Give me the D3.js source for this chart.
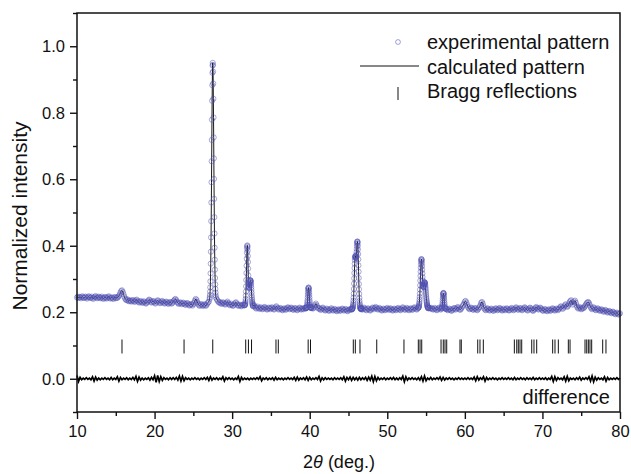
<!DOCTYPE html>
<html>
<head>
<meta charset="utf-8">
<script src="https://cdn.jsdelivr.net/npm/d3@7"></script>
<style>
  body { margin: 0; background: #fff; }
  text { font-family: "Liberation Sans", Arial, sans-serif; fill: #111; }
</style>
</head>
<body>
<div id="plot"></div>
<script>
// powder XRD: observed points (10..80 deg, step 0.1), finer scans over the peaks (step 0.02),
// difference (step 0.2), Bragg positions
const obsStart = 10, obsStep = 0.1;
const obsIntensity = [
  0.244,0.247,0.243,0.246,0.245,0.242,0.246,0.248,0.244,0.243, // 10
  0.245,0.247,0.244,0.241,0.245,0.248,0.246,0.243,0.244,0.247,
  0.243,0.240,0.244,0.246,0.249,0.245,0.242,0.244,0.247,0.245,
  0.242,0.244,0.247,0.243,0.240,0.243,0.246,0.244,0.241,0.243,
  0.246,0.248,0.244,0.241,0.243,0.245,0.242,0.240,0.244,0.246,
  0.242,0.244,0.243,0.246,0.249,0.253,0.259,0.264,0.266,0.261, // 15
  0.254,0.247,0.241,0.238,0.236,0.239,0.235,0.233,0.236,0.234,
  0.232,0.235,0.237,0.234,0.231,0.233,0.236,0.238,0.234,0.231,
  0.229,0.232,0.234,0.231,0.228,0.230,0.233,0.231,0.228,0.226,
  0.229,0.232,0.235,0.238,0.236,0.232,0.229,0.231,0.234,0.232,
  0.229,0.226,0.229,0.233,0.236,0.234,0.230,0.227,0.229,0.232, // 20
  0.234,0.231,0.228,0.226,0.229,0.232,0.230,0.227,0.225,0.228,
  0.231,0.229,0.226,0.228,0.232,0.235,0.238,0.240,0.236,0.231,
  0.228,0.225,0.227,0.230,0.228,0.224,0.226,0.229,0.227,0.224,
  0.222,0.225,0.228,0.226,0.223,0.220,0.222,0.225,0.223,0.220,
  0.224,0.229,0.235,0.240,0.237,0.231,0.226,0.222,0.219,0.222, // 25
  0.225,0.222,0.219,0.221,0.224,0.222,0.219,0.222,0.226,0.230,
  0.232,0.250,0.300,0.450,0.740,0.950,0.800,0.520,0.340,0.270,
  0.240,0.236,0.232,0.229,0.231,0.228,0.225,0.227,0.230,0.228,
  0.225,0.223,0.226,0.229,0.232,0.228,0.224,0.221,0.223,0.226,
  0.222,0.219,0.221,0.224,0.228,0.230,0.226,0.222,0.219,0.221, // 30
  0.223,0.220,0.218,0.221,0.223,0.221,0.252,0.280,0.330,0.380,
  0.402,0.375,0.320,0.295,0.298,0.290,0.262,0.238,0.222,0.218,
  0.214,0.211,0.214,0.217,0.213,0.210,0.212,0.215,0.212,0.209,
  0.211,0.214,0.216,0.213,0.210,0.208,0.211,0.214,0.212,0.209,
  0.212,0.215,0.213,0.210,0.208,0.211,0.215,0.218,0.214,0.211, // 35
  0.208,0.210,0.213,0.211,0.208,0.206,0.209,0.212,0.210,0.207,
  0.210,0.213,0.215,0.212,0.209,0.211,0.214,0.212,0.209,0.207,
  0.210,0.213,0.211,0.208,0.206,0.209,0.212,0.214,0.211,0.208,
  0.210,0.212,0.209,0.212,0.213,0.220,0.230,0.248,0.266,0.274,
  0.262,0.240,0.222,0.213,0.211,0.213,0.217,0.222,0.226,0.221, // 40
  0.215,0.211,0.213,0.210,0.207,0.209,0.212,0.214,0.210,0.207,
  0.205,0.208,0.211,0.209,0.206,0.204,0.207,0.210,0.212,0.208,
  0.205,0.207,0.210,0.208,0.205,0.203,0.206,0.209,0.207,0.204,
  0.206,0.209,0.211,0.208,0.205,0.207,0.210,0.208,0.205,0.203,
  0.206,0.209,0.208,0.210,0.225,0.250,0.300,0.350,0.372,0.355, // 45
  0.360,0.390,0.412,0.380,0.310,0.250,0.222,0.212,0.208,0.211,
  0.214,0.211,0.208,0.206,0.209,0.212,0.210,0.207,0.205,0.208,
  0.211,0.214,0.212,0.209,0.213,0.216,0.213,0.210,0.208,0.211,
  0.213,0.210,0.207,0.205,0.208,0.211,0.209,0.206,0.208,0.211,
  0.213,0.210,0.207,0.209,0.212,0.210,0.207,0.205,0.208,0.211, // 50
  0.209,0.206,0.208,0.211,0.213,0.210,0.208,0.206,0.209,0.212,
  0.215,0.212,0.209,0.207,0.210,0.213,0.211,0.208,0.206,0.209,
  0.212,0.210,0.207,0.209,0.212,0.215,0.213,0.210,0.208,0.211,
  0.215,0.225,0.250,0.300,0.345,0.360,0.330,0.290,0.275,0.285,
  0.290,0.280,0.255,0.235,0.214,0.212,0.211,0.213,0.210,0.208, // 55
  0.210,0.213,0.211,0.208,0.206,0.209,0.212,0.214,0.211,0.208,
  0.212,0.225,0.248,0.258,0.240,0.222,0.209,0.209,0.206,0.208,
  0.211,0.209,0.206,0.204,0.207,0.210,0.213,0.211,0.208,0.210,
  0.213,0.216,0.212,0.209,0.207,0.210,0.214,0.218,0.222,0.226,
  0.232,0.234,0.229,0.222,0.216,0.212,0.209,0.211,0.214,0.212, // 60
  0.209,0.207,0.210,0.213,0.211,0.208,0.206,0.209,0.213,0.216,
  0.221,0.228,0.231,0.226,0.218,0.212,0.208,0.206,0.209,0.212,
  0.210,0.207,0.205,0.208,0.211,0.209,0.206,0.204,0.207,0.210,
  0.212,0.209,0.206,0.208,0.211,0.213,0.210,0.207,0.205,0.208,
  0.211,0.208,0.206,0.209,0.212,0.210,0.207,0.205,0.207,0.210, // 65
  0.213,0.211,0.208,0.206,0.209,0.212,0.215,0.212,0.209,0.207,
  0.210,0.213,0.211,0.208,0.206,0.209,0.212,0.215,0.213,0.210,
  0.207,0.205,0.208,0.211,0.214,0.212,0.209,0.206,0.204,0.207,
  0.210,0.213,0.216,0.213,0.210,0.208,0.211,0.214,0.212,0.209,
  0.206,0.204,0.207,0.210,0.208,0.205,0.203,0.206,0.209,0.207, // 70
  0.204,0.206,0.209,0.212,0.210,0.207,0.205,0.208,0.211,0.209,
  0.206,0.209,0.212,0.216,0.218,0.214,0.210,0.213,0.217,0.221,
  0.224,0.220,0.216,0.219,0.224,0.230,0.234,0.236,0.230,0.223,
  0.226,0.232,0.235,0.229,0.221,0.215,0.211,0.213,0.216,0.212,
  0.209,0.211,0.214,0.212,0.215,0.219,0.223,0.227,0.229,0.231, // 75
  0.228,0.222,0.216,0.212,0.209,0.212,0.215,0.212,0.208,0.206,
  0.209,0.212,0.210,0.207,0.204,0.206,0.209,0.207,0.204,0.201,
  0.204,0.207,0.205,0.202,0.199,0.201,0.204,0.202,0.199,0.197,
  0.200,0.202,0.199,0.196,0.194,0.197,0.199,0.196,0.193,0.195,
  0.197 // 80
];

// finer scans over the main reflections
const fineStep = 0.02;
const peak27 = [0.240,0.245,0.252,0.262,0.275,0.293,0.317,0.346,0.382,0.425,
  0.474,0.530,0.591,0.654,0.718,0.779,0.836,0.883,0.920,0.942,
  0.950,0.944,0.924,0.888,0.842,0.786,0.726,0.663,0.601,0.541,
  0.486,0.437,0.394,0.358,0.328,0.303,0.284,0.270,0.259,0.251,0.245];
const peak32 = [0.221,0.221,0.222,0.223,0.225,0.228,0.233,0.240,0.250,0.262,
  0.278,0.297,0.318,0.340,0.361,0.379,0.392,0.399,0.401,0.396,
  0.385,0.369,0.351,0.331,0.311,0.295,0.284,0.277,0.274,0.273,
  0.275,0.278,0.282,0.286,0.290,0.293,0.295,0.296,0.296,0.295,
  0.292,0.288,0.282,0.275,0.267,0.259,0.251,0.244,0.238,0.233,
  0.229,0.226,0.223,0.221,0.219,0.218];
const peak40 = [0.212,0.212,0.212,0.213,0.213,0.214,0.215,0.217,0.220,0.224,
  0.230,0.236,0.244,0.252,0.259,0.266,0.271,0.274,0.274,0.271,
  0.266,0.259,0.252,0.244,0.236,0.230,0.224,0.220,0.217,0.215,
  0.216,0.215,0.214,0.213,0.213,0.213];
const peak46 = [0.209,0.208,0.209,0.210,0.210,0.211,0.212,0.214,0.216,0.219,
  0.223,0.228,0.235,0.244,0.256,0.270,0.286,0.302,0.318,0.333,
  0.346,0.357,0.364,0.368,0.369,0.368,0.366,0.364,0.363,0.364,
  0.367,0.373,0.381,0.390,0.399,0.406,0.411,0.413,0.412,0.408,
  0.400,0.389,0.375,0.359,0.341,0.322,0.303,0.285,0.269,0.255,
  0.243,0.234,0.227,0.222,0.218,0.215,0.213,0.212,0.211,0.210,
  0.210,0.209,0.210,0.211,0.212,0.212];
const peak54 = [0.213,0.214,0.215,0.217,0.219,0.222,0.226,0.231,0.238,0.246,
  0.256,0.268,0.281,0.295,0.309,0.322,0.334,0.344,0.352,0.357,
  0.360,0.359,0.355,0.348,0.339,0.328,0.317,0.306,0.296,0.288,
  0.282,0.278,0.276,0.276,0.277,0.279,0.282,0.285,0.287,0.289,
  0.290,0.290,0.289,0.287,0.284,0.280,0.275,0.270,0.264,0.258,
  0.252,0.246,0.241,0.236,0.232,0.228,0.225,0.222,0.220,0.218,
  0.216,0.215,0.214,0.213,0.212,0.212];
const peak57 = [0.211,0.212,0.213,0.215,0.218,0.222,0.228,0.235,0.242,0.249,
  0.254,0.257,0.258,0.257,0.254,0.249,0.243,0.236,0.229,0.223,
  0.218,0.215,0.213,0.212,0.211,0.211];
const peakStarts = [27.10, 31.60, 39.50, 45.40, 54.00, 57.00];
const peakScans = [peak27, peak32, peak40, peak46, peak54, peak57];

const diffStart = 10, diffStep = 0.2;
const diffValues = [
  0.010,-0.008,0.004,-0.003,0.002,-0.002,0.003,-0.002,0.002,-0.003, // 10
  0.006,-0.007,0.005,-0.004,0.002,-0.003,0.002,-0.002,0.003,-0.002,
  0.002,-0.003,0.004,-0.003,0.002,-0.002,0.006,-0.007,0.004,-0.003,
  0.002,-0.002,0.003,-0.003,0.002,-0.002,0.004,-0.003,0.007,-0.008,
  0.005,-0.004,0.002,-0.003,0.002,-0.002,0.003,-0.004,0.004,-0.003,
  0.009,-0.011,0.010,-0.008,0.006,-0.005,0.003,-0.002,0.002,-0.003, // 20
  0.003,-0.002,0.003,-0.002,0.004,-0.004,0.008,-0.007,0.007,-0.006,
  0.003,-0.002,0.002,-0.003,0.002,-0.002,0.003,-0.002,0.002,-0.003,
  0.002,-0.002,0.003,-0.002,0.004,-0.005,0.006,-0.004,0.002,-0.002,
  0.003,-0.003,0.002,-0.002,0.006,-0.007,0.003,-0.002,0.003,-0.002,
  0.002,-0.003,0.002,-0.002,0.007,-0.008,0.004,-0.003,0.002,-0.002, // 30
  0.002,-0.003,0.002,-0.002,0.002,-0.002,0.003,-0.002,0.006,-0.006,
  0.002,-0.002,0.003,-0.003,0.002,-0.002,0.003,-0.004,0.004,-0.003,
  0.002,-0.002,0.002,-0.003,0.002,-0.002,0.003,-0.002,0.002,-0.002,
  0.004,-0.005,0.005,-0.004,0.002,-0.002,0.003,-0.003,0.005,-0.005,
  0.004,-0.003,0.002,-0.002,0.003,-0.002,0.007,-0.007,0.003,-0.003, // 40
  0.003,-0.002,0.002,-0.002,0.002,-0.003,0.003,-0.002,0.002,-0.002,
  0.003,-0.003,0.006,-0.007,0.004,-0.003,0.005,-0.005,0.004,-0.003,
  0.003,-0.004,0.004,-0.003,0.003,-0.002,0.004,-0.005,0.005,-0.004,
  0.008,-0.009,0.007,-0.006,0.004,-0.003,0.002,-0.002,0.003,-0.003,
  0.002,-0.002,0.003,-0.002,0.004,-0.003,0.002,-0.003,0.003,-0.002, // 50
  0.008,-0.009,0.006,-0.004,0.002,-0.002,0.003,-0.002,0.002,-0.003,
  0.003,-0.004,0.006,-0.007,0.008,-0.006,0.002,-0.002,0.004,-0.003,
  0.002,-0.002,0.003,-0.002,0.005,-0.005,0.004,-0.004,0.002,-0.002,
  0.003,-0.002,0.002,-0.003,0.002,-0.002,0.003,-0.002,0.002,-0.002,
  0.002,-0.002,0.003,-0.002,0.002,-0.002,0.005,-0.006,0.006,-0.004, // 60
  0.003,-0.002,0.006,-0.007,0.004,-0.003,0.002,-0.002,0.003,-0.002,
  0.002,-0.003,0.002,-0.002,0.003,-0.002,0.002,-0.002,0.003,-0.002,
  0.002,-0.003,0.004,-0.003,0.002,-0.002,0.003,-0.002,0.002,-0.003,
  0.003,-0.002,0.002,-0.002,0.004,-0.003,0.002,-0.002,0.003,-0.002,
  0.002,-0.002,0.003,-0.003,0.002,-0.002,0.007,-0.008,0.006,-0.005, // 70
  0.003,-0.002,0.002,-0.003,0.006,-0.007,0.007,-0.006,0.002,-0.002,
  0.002,-0.003,0.003,-0.002,0.005,-0.004,0.002,-0.002,0.003,-0.002,
  0.006,-0.007,0.008,-0.009,0.005,-0.004,0.003,-0.002,0.002,-0.003,
  0.006,-0.007,0.004,-0.003,0.002,-0.002,0.002,-0.002,0.003,-0.002,
  0.002 // 80
];

const braggPositions = [15.8,23.8,27.5,31.75,32.1,32.5,35.65,35.95,39.8,40.1,
  45.62,45.88,46.48,48.64,52.15,54.0,54.22,54.44,56.93,57.22,57.44,57.66,
  59.37,59.54,61.66,61.95,62.38,66.38,66.69,66.89,67.11,67.33,68.62,68.91,69.26,
  71.32,71.62,72.05,73.34,73.56,75.49,75.71,75.92,76.13,76.35,77.77,78.19];
const braggLevel = 0.097;

const xTicks = [10,20,30,40,50,60,70,80];
const xMinor = [15,25,35,45,55,65,75];
const yTicks = [0.0,0.2,0.4,0.6,0.8,1.0];
const yMinor = [-0.1,0.1,0.3,0.5,0.7,0.9,1.1];
const legendLabels = ["experimental pattern","calculated pattern","Bragg reflections"];

const W = 631, H = 474;
const svg = d3.select("#plot").append("svg").attr("width",W).attr("height",H);

const x = d3.scaleLinear().domain([10,80]).range([77,620]);
const y = d3.scaleLinear().domain([-0.1,1.1]).range([412,13]);

// merge the coarse scan with the fine peak scans
const fineRanges = peakScans.map((arr,k)=>[peakStarts[k], peakStarts[k] + (arr.length-1)*fineStep]);
const finePts = [];
peakScans.forEach((arr,k)=>arr.forEach((v,i)=>finePts.push({t: peakStarts[k] + i*fineStep, v: v})));
const coarsePts = obsIntensity.map((v,i)=>({t: obsStart + i*obsStep, v: v}))
  .filter(p => !fineRanges.some(r => p.t >= r[0]-1e-6 && p.t <= r[1]+1e-6));
const obs = coarsePts.concat(finePts).sort((a,b)=>a.t-b.t);
const diff = diffValues.map((v,i)=>({t: diffStart + i*diffStep, v: v}));

const plot = svg.append("g");

// calculated pattern
plot.append("path").datum(obs)
  .attr("fill","none").attr("stroke","#000").attr("stroke-width",0.9)
  .attr("d", d3.line().x(d=>x(d.t)).y(d=>y(d.v)));

// experimental points
plot.append("g").selectAll("circle").data(obs).join("circle")
  .attr("cx",d=>x(d.t)).attr("cy",d=>y(d.v)).attr("r",2.6)
  .attr("fill","none").attr("stroke","#5252b4").attr("stroke-opacity",0.55)
  .attr("stroke-width",0.9);

// Bragg reflections
plot.append("g").selectAll("line").data(braggPositions).join("line")
  .attr("x1",d=>x(d)).attr("x2",d=>x(d))
  .attr("y1",y(braggLevel)-7).attr("y2",y(braggLevel)+7)
  .attr("stroke","#111").attr("stroke-width",1);

// difference
plot.append("path").datum(diff)
  .attr("fill","none").attr("stroke","#000").attr("stroke-width",1.7)
  .attr("d", d3.line().x(d=>x(d.t)).y(d=>y(d.v)));

// axes
svg.append("g").attr("transform","translate(0,412)")
  .call(d3.axisBottom(x).tickValues(xTicks).tickSize(7).tickPadding(6).tickFormat(d3.format("d")));
svg.append("g").attr("transform","translate(0,412)")
  .call(d3.axisBottom(x).tickValues(xMinor).tickSize(4).tickFormat(""));
svg.append("g").attr("transform","translate(77,0)")
  .call(d3.axisLeft(y).tickValues(yTicks).tickSize(7).tickPadding(5).tickFormat(d3.format(".1f")));
svg.append("g").attr("transform","translate(77,0)")
  .call(d3.axisLeft(y).tickValues(yMinor).tickSize(4).tickFormat(""));
svg.selectAll(".domain").remove();
svg.selectAll(".tick line").attr("stroke","#111").attr("stroke-width",1.4);
svg.selectAll(".tick text").style("font-size","16.5px").attr("fill","#111");

// frame
svg.append("rect").attr("x",77).attr("y",13).attr("width",543).attr("height",399)
  .attr("fill","none").attr("stroke","#111").attr("stroke-width",1.5);

// titles
svg.append("text").attr("x",339).attr("y",468).attr("text-anchor","middle")
  .style("font-size","18px")
  .html('2<tspan font-style="italic">θ</tspan> (deg.)');
svg.append("text").attr("transform","translate(27,216) rotate(-90)")
  .attr("text-anchor","middle").style("font-size","21px").text("Normalized intensity");
svg.append("text").attr("x",610).attr("y",404).attr("text-anchor","end")
  .style("font-size","20px").text("difference");

// legend
const lg = svg.append("g");
lg.append("circle").attr("cx",398).attr("cy",42).attr("r",2.4)
  .attr("fill","none").attr("stroke","#5252b4").attr("stroke-opacity",0.6).attr("stroke-width",0.9);
lg.append("line").attr("x1",360).attr("x2",419).attr("y1",66).attr("y2",66)
  .attr("stroke","#111").attr("stroke-width",1);
lg.append("line").attr("x1",398).attr("x2",398).attr("y1",87).attr("y2",100)
  .attr("stroke","#111").attr("stroke-width",1);
lg.selectAll("text").data(legendLabels).join("text")
  .attr("x",427).attr("y",(d,i)=>49 + i*24.5)
  .style("font-size","20px").text(d=>d);
</script>
</body>
</html>
